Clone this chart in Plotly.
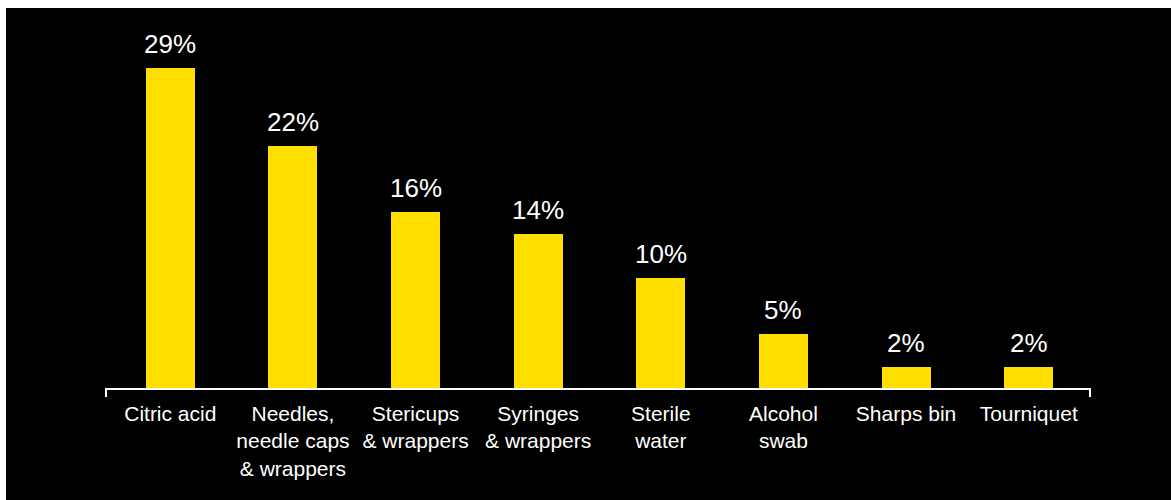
import plotly.graph_objects as go

# Share of items, in percent
categories = [
    "Citric acid",
    "Needles,<br>needle caps<br>& wrappers",
    "Stericups<br>& wrappers",
    "Syringes<br>& wrappers",
    "Sterile<br>water",
    "Alcohol<br>swab",
    "Sharps bin",
    "Tourniquet",
]
values = [29, 22, 16, 14, 10, 5, 2, 2]
value_labels = ["29%", "22%", "16%", "14%", "10%", "5%", "2%", "2%"]

W, H = 1171, 500
L, R, T, B = 109, 81, 57, 111
plot_w = W - L - R
plot_h = H - T - B

FONT = "Liberation Sans, Arial, Helvetica, sans-serif"
YELLOW = "#FFDF00"

fig = go.Figure()
fig.add_trace(
    go.Bar(
        x=list(range(len(categories))),
        y=values,
        width=0.4,
        marker=dict(color=YELLOW, line=dict(width=0)),
        hoverinfo="skip",
    )
)

# value labels above each bar
annotations = []
for i, (v, t) in enumerate(zip(values, value_labels)):
    annotations.append(
        dict(
            x=i, y=v, xref="x", yref="y", text=t, showarrow=False,
            yanchor="bottom", yshift=7,
            font=dict(family=FONT, size=26, color="white"),
        )
    )


def px_x(p):
    return (p - L) / plot_w


def px_y(p):
    return (H - B - p) / plot_h


shapes = [
    # black panel with a thin white edge at top and left
    dict(type="rect", xref="paper", yref="paper", layer="below",
         x0=px_x(6), x1=px_x(W + 5), y0=px_y(H + 5), y1=px_y(8),
         fillcolor="black", line=dict(width=0)),
    # baseline with end ticks
    dict(type="path", xref="paper", yref="paper", layer="above",
         path=f"M {px_x(106)} {px_y(397)} L {px_x(106)} {px_y(389)} "
              f"L {px_x(1090)} {px_y(389)} L {px_x(1090)} {px_y(397)}",
         line=dict(color="white", width=2)),
]

fig.update_layout(
    width=W, height=H,
    margin=dict(l=L, r=R, t=T, b=B, pad=0),
    paper_bgcolor="white",
    plot_bgcolor="rgba(0,0,0,0)",
    showlegend=False,
    bargap=0,
    annotations=annotations,
    shapes=shapes,
    font=dict(family=FONT, color="white"),
    xaxis=dict(
        range=[-0.5, len(categories) - 0.5],
        tickmode="array",
        tickvals=list(range(len(categories))),
        ticktext=categories,
        tickfont=dict(family=FONT, size=21, color="white"),
        showgrid=False, zeroline=False, showline=False, ticks="",
        ticklabelstandoff=10,
        fixedrange=True,
    ),
    yaxis=dict(
        range=[0, 30],
        visible=False,
        showgrid=False, zeroline=False,
        fixedrange=True,
    ),
)
for tr in fig.data:
    tr.cliponaxis = False

fig.write_html("out.html", config={"displayModeBar": False})
